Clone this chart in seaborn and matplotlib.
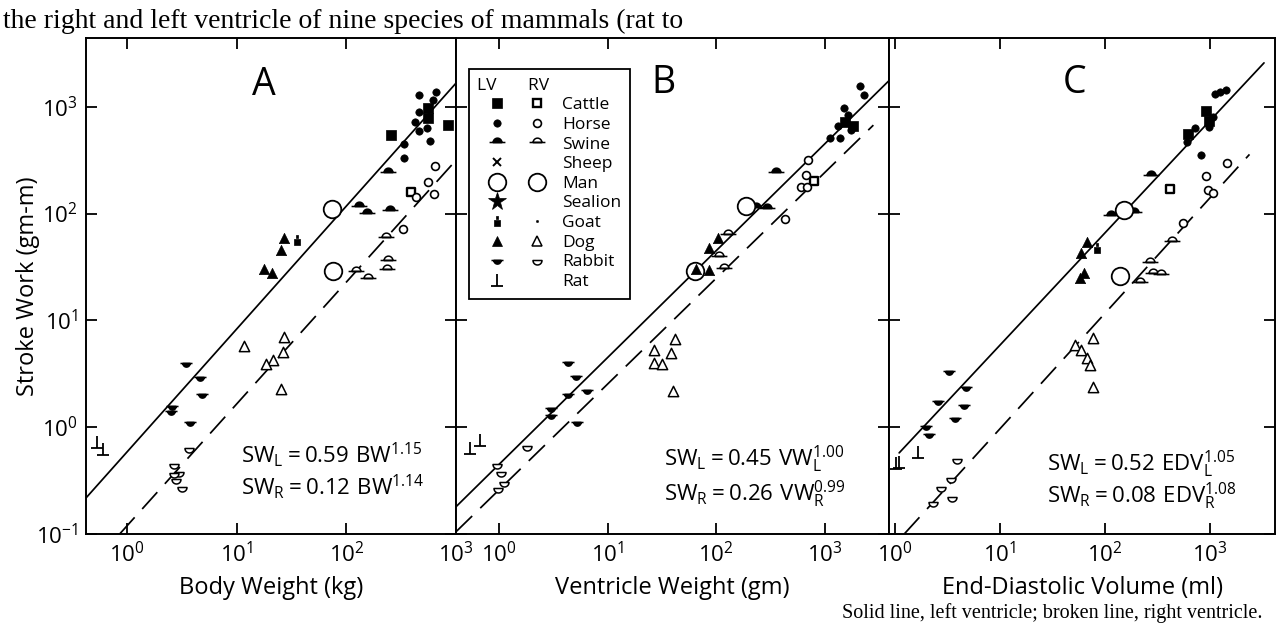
import numpy as np
import pandas as pd
import matplotlib
matplotlib.use("Agg")
import matplotlib.pyplot as plt
import seaborn as sns
from matplotlib.path import Path
from matplotlib.lines import Line2D
from matplotlib.legend_handler import HandlerTuple
from matplotlib.ticker import LogLocator, LogFormatterSciNotation, NullLocator

# ---------------- categories / labels ----------------
species = ["Cattle", "Horse", "Swine", "Sheep", "Man", "Sealion", "Goat", "Dog", "Rabbit", "Rat"]
panels = ["A", "B", "C"]
panel_xlabels = ["Body Weight (kg)", "Ventricle Weight (gm)", "End-Diastolic Volume (ml)"]
ylabel = "Stroke Work (gm-m)"

# ---------------- Panel A: body weight (kg) vs stroke work (gm-m) ----------------
A_cattle_LV = ([253, 556, 560, 848], [540, 966, 787, 673])
A_cattle_RV = ([388], [160])
A_horse_LV = ([462, 650, 623, 464, 423, 463, 545, 578, 333, 333],
              [1284, 1371, 1166, 899, 726, 598, 634, 473, 444, 328])
A_horse_RV = ([638, 554, 430, 635, 326], [280, 199, 143, 151, 72])
A_swine_LV = ([241, 130, 154, 250], [247, 117, 102, 109])
A_swine_RV = ([230, 239, 237, 156, 122], [60, 37, 30, 25, 29])
A_man_LV = ([74], [111])
A_man_RV = ([75], [29])
A_goat_LV = ([35.4], [56])
A_dog_LV = ([26.8, 25.2, 17.7, 21], [58.5, 46, 30, 28])
A_dog_RV = ([11.6, 27.2, 26.4, 21.2, 18.3, 25.5], [5.8, 7.0, 5.1, 4.3, 3.9, 2.28])
A_rabbit_LV = ([3.43, 4.64, 2.57, 4.8, 3.74, 2.5], [3.98, 2.93, 1.57, 2.04, 1.12, 1.42])
A_rabbit_RV = ([3.65, 2.68, 2.99, 2.69, 3.17, 2.77], [0.64, 0.456, 0.378, 0.375, 0.278, 0.324])
A_rat_LV = ([0.53, 0.6], [0.72, 0.62])

# ---------------- Panel B: ventricle weight (gm) vs stroke work ----------------
B_cattle_LV = ([1541, 1806], [725, 656])
B_cattle_RV = ([787], [202])
B_horse_LV = ([2122, 2303, 1489, 1618, 1114, 1393, 1320, 1738],
              [1550, 1291, 980, 833, 506, 510, 656, 604])
B_horse_RV = ([707, 664, 599, 680, 432], [316, 232, 176, 177, 88])
B_swine_LV = ([295, 352, 231], [113, 245, 114])
B_swine_RV = ([128, 105, 119], [64, 40, 31])
B_man_LV = ([187], [118])
B_man_RV = ([63], [28.7])
B_dog_LV = ([103, 85.5, 86.5, 65], [59, 48, 29.5, 30.5])
B_dog_RV = ([26.9, 38.1, 42, 26.9, 31.6, 39.5], [5.3, 5.0, 6.7, 4.0, 3.9, 2.2])
B_rabbit_LV = ([4.3, 5.07, 4.33, 6.5, 3.0, 3.02, 5.2], [4.1, 3.0, 2.04, 2.22, 1.5, 1.31, 1.13])
B_rabbit_RV = ([1.81, 0.96, 1.045, 1.11, 0.97], [0.66, 0.45, 0.38, 0.31, 0.27])
B_rat_LV = ([0.54, 0.67], [0.64, 0.76])

# ---------------- Panel C: end-diastolic volume (ml) vs stroke work ----------------
C_cattle_LV = ([921, 629, 981], [908, 556, 728])
C_cattle_RV = ([417], [171])
C_horse_LV = ([1122, 1250, 1445, 721, 989, 603, 824, 1074],
              [1313, 1365, 1448, 638, 653, 464, 355, 796])
C_horse_RV = ([1455, 931, 973, 1074, 561], [299, 223, 167, 156, 81])
C_swine_LV = ([275, 116, 192], [232, 97.5, 103])
C_swine_RV = ([442, 272, 289, 346, 215], [55, 35, 28, 27, 22.7])
C_man_LV = ([152], [107])
C_man_RV = ([140], [25.8])
C_goat_LV = ([84], [48])
C_dog_LV = ([68, 59, 64, 58], [54, 42.7, 28, 24.7])
C_dog_RV = ([77, 52, 59, 68, 72, 78], [6.8, 5.9, 5.3, 4.4, 3.8, 2.36])
C_rabbit_LV = ([3.27, 4.72, 2.56, 4.55, 3.75, 1.99, 2.13], [3.33, 2.4, 1.75, 1.61, 1.23, 1.02, 0.865])
C_rabbit_RV = ([3.88, 3.42, 2.74, 3.49, 2.33], [0.50, 0.335, 0.274, 0.224, 0.20])
C_rat_LV = ([1.65, 1.02, 1.1], [0.59, 0.466, 0.47])

# ---------------- fitted power laws (SW = a * X^b) ----------------
fit_coef_LV = [0.59, 0.45, 0.52]
fit_exp_LV = [1.15, 1.00, 1.05]
fit_coef_RV = [0.12, 0.26, 0.08]
fit_exp_RV = [1.14, 0.99, 1.08]
fit_xrange_LV = [(0.42, 1000), (0.4, 3900), (1.1, 3300)]
fit_xrange_RV = [(0.85, 1000), (0.4, 2800), (1.23, 2400)]

eq_LV = [r"$\mathregular{SW_L = 0.59\ BW^{1.15}}$",
         r"$\mathregular{SW_L = 0.45\ VW_L^{1.00}}$",
         r"$\mathregular{SW_L = 0.52\ EDV_L^{1.05}}$"]
eq_RV = [r"$\mathregular{SW_R = 0.12\ BW^{1.14}}$",
         r"$\mathregular{SW_R = 0.26\ VW_R^{0.99}}$",
         r"$\mathregular{SW_R = 0.08\ EDV_R^{1.08}}$"]

panel_xlims = [(0.42, 1000), (0.4, 3900), (0.88, 4200)]
panel_ylim = (0.1, 4400)

caption_top = "the right and left ventricle of nine species of mammals (rat to"
caption_bottom = "Solid line, left ventricle; broken line, right ventricle."

# ---------------- tidy table ----------------
series = {
    ("A", "Cattle", "LV"): A_cattle_LV, ("A", "Cattle", "RV"): A_cattle_RV,
    ("A", "Horse", "LV"): A_horse_LV, ("A", "Horse", "RV"): A_horse_RV,
    ("A", "Swine", "LV"): A_swine_LV, ("A", "Swine", "RV"): A_swine_RV,
    ("A", "Man", "LV"): A_man_LV, ("A", "Man", "RV"): A_man_RV,
    ("A", "Goat", "LV"): A_goat_LV,
    ("A", "Dog", "LV"): A_dog_LV, ("A", "Dog", "RV"): A_dog_RV,
    ("A", "Rabbit", "LV"): A_rabbit_LV, ("A", "Rabbit", "RV"): A_rabbit_RV,
    ("A", "Rat", "LV"): A_rat_LV,
    ("B", "Cattle", "LV"): B_cattle_LV, ("B", "Cattle", "RV"): B_cattle_RV,
    ("B", "Horse", "LV"): B_horse_LV, ("B", "Horse", "RV"): B_horse_RV,
    ("B", "Swine", "LV"): B_swine_LV, ("B", "Swine", "RV"): B_swine_RV,
    ("B", "Man", "LV"): B_man_LV, ("B", "Man", "RV"): B_man_RV,
    ("B", "Dog", "LV"): B_dog_LV, ("B", "Dog", "RV"): B_dog_RV,
    ("B", "Rabbit", "LV"): B_rabbit_LV, ("B", "Rabbit", "RV"): B_rabbit_RV,
    ("B", "Rat", "LV"): B_rat_LV,
    ("C", "Cattle", "LV"): C_cattle_LV, ("C", "Cattle", "RV"): C_cattle_RV,
    ("C", "Horse", "LV"): C_horse_LV, ("C", "Horse", "RV"): C_horse_RV,
    ("C", "Swine", "LV"): C_swine_LV, ("C", "Swine", "RV"): C_swine_RV,
    ("C", "Man", "LV"): C_man_LV, ("C", "Man", "RV"): C_man_RV,
    ("C", "Goat", "LV"): C_goat_LV,
    ("C", "Dog", "LV"): C_dog_LV, ("C", "Dog", "RV"): C_dog_RV,
    ("C", "Rabbit", "LV"): C_rabbit_LV, ("C", "Rabbit", "RV"): C_rabbit_RV,
    ("C", "Rat", "LV"): C_rat_LV,
}
rows = []
for (p, sp, v), (xs, ys) in series.items():
    for x, y in zip(xs, ys):
        rows.append(dict(panel=p, species=sp, vent=v, x=x, y=y))
df = pd.DataFrame(rows)

# ---------------- custom markers ----------------
def _arc(a0, a1, r, n=25):
    t = np.linspace(a0, a1, n)
    return np.column_stack([r * np.cos(t), r * np.sin(t)])

def dome_path():
    arc = _arc(0, np.pi, 0.55)
    verts = np.vstack([arc, arc[:1], [[-1, 0], [1, 0]]])
    codes = [Path.MOVETO] + [Path.LINETO] * (len(arc) - 1) + [Path.CLOSEPOLY, Path.MOVETO, Path.LINETO]
    return Path(verts, codes)

def bowl_path():
    arc = _arc(np.pi, 2 * np.pi, 0.6)
    verts = np.vstack([arc, arc[:1], [[-1, 0], [1, 0]]])
    codes = [Path.MOVETO] + [Path.LINETO] * (len(arc) - 1) + [Path.CLOSEPOLY, Path.MOVETO, Path.LINETO]
    return Path(verts, codes)

def cup_path():
    arc = _arc(np.pi, 2 * np.pi, 1.0)
    verts = np.vstack([arc, arc[:1]])
    codes = [Path.MOVETO] + [Path.LINETO] * (len(arc) - 1) + [Path.CLOSEPOLY]
    return Path(verts, codes)

def rat_path():
    verts = [[-1, -1], [1, -1], [0, -1], [0, 1]]
    codes = [Path.MOVETO, Path.LINETO, Path.MOVETO, Path.LINETO]
    return Path(verts, codes)

def goat_path():
    verts = [[-0.7, -1], [0.7, -1], [0.7, 0.25], [-0.7, 0.25], [-0.7, -1],
             [-0.3, 0.45], [0.3, 0.45], [0.3, 1.0], [-0.3, 1.0], [-0.3, 0.45]]
    codes = [Path.MOVETO, Path.LINETO, Path.LINETO, Path.LINETO, Path.CLOSEPOLY] * 2
    return Path(verts, codes)

DOME, BOWL, CUP, RAT, GOAT = dome_path(), bowl_path(), cup_path(), rat_path(), goat_path()

styles = {
    ("Cattle", "LV"): dict(marker="s", s=55, fc="black", ec="black", lw=0.5),
    ("Cattle", "RV"): dict(marker="s", s=32, fc="white", ec="black", lw=1.7),
    ("Horse", "LV"): dict(marker="o", s=28, fc="black", ec="black", lw=0.5),
    ("Horse", "RV"): dict(marker="o", s=32, fc="white", ec="black", lw=1.2),
    ("Swine", "LV"): dict(marker=DOME, s=130, fc="black", ec="black", lw=1.1),
    ("Swine", "RV"): dict(marker=DOME, s=130, fc="white", ec="black", lw=1.1),
    ("Sheep", "LV"): dict(marker="x", s=30, fc="black", ec="black", lw=1.4),
    ("Man", "LV"): dict(marker="o", s=160, fc="white", ec="black", lw=1.3),
    ("Man", "RV"): dict(marker="o", s=160, fc="white", ec="black", lw=1.3),
    ("Sealion", "LV"): dict(marker="*", s=180, fc="black", ec="black", lw=0.5),
    ("Goat", "LV"): dict(marker=GOAT, s=45, fc="black", ec="black", lw=0.5),
    ("Goat", "RV"): dict(marker="o", s=3, fc="black", ec="black", lw=0.3),
    ("Dog", "LV"): dict(marker="^", s=55, fc="black", ec="black", lw=0.5),
    ("Dog", "RV"): dict(marker="^", s=55, fc="white", ec="black", lw=1.1),
    ("Rabbit", "LV"): dict(marker=BOWL, s=75, fc="black", ec="black", lw=1.1),
    ("Rabbit", "RV"): dict(marker=CUP, s=42, fc="white", ec="black", lw=1.1),
    ("Rat", "LV"): dict(marker=RAT, s=75, fc="black", ec="black", lw=1.3),
}

# ---------------- style ----------------
sns.set_style("ticks")
plt.rcParams.update({
    "font.family": ["Open Sans", "DejaVu Sans"],
    "axes.edgecolor": "black", "axes.linewidth": 1.4,
    "xtick.color": "black", "ytick.color": "black",
    "text.color": "black", "axes.labelcolor": "black",
})

W, H = 1283, 625
fig = plt.figure(figsize=(W / 100, H / 100), dpi=100)
bottom_px, top_px = 534, 38
lefts = [86, 456, 889]
rights = [456, 889, 1275]
letter_pos = [(0.48, 0.905), (0.48, 0.91), (0.48, 0.91)]
eq_pos = [(0.42, 0.16, 0.095), (0.48, 0.15, 0.08), (0.41, 0.14, 0.075)]

axes = []
for i, p in enumerate(panels):
    ax = fig.add_axes([lefts[i] / W, (H - bottom_px) / H,
                       (rights[i] - lefts[i]) / W, (bottom_px - top_px) / H])
    ax.set_xscale("log")
    ax.set_yscale("log")
    ax.set_xlim(*panel_xlims[i])
    ax.set_ylim(*panel_ylim)

    # regression lines (solid: left ventricle, broken: right ventricle)
    for coef, ex, rng, ls in [(fit_coef_LV[i], fit_exp_LV[i], fit_xrange_LV[i], "-"),
                              (fit_coef_RV[i], fit_exp_RV[i], fit_xrange_RV[i], (0, (13, 6.5)))]:
        xs = np.array(rng, dtype=float)
        ys = coef * xs ** ex
        sns.lineplot(x=xs, y=ys, ax=ax, color="black", linewidth=1.25,
                     linestyle=ls, errorbar=None, zorder=2)

    # points
    sub = df[df.panel == p]
    for (sp, v), g in sub.groupby(["species", "vent"], sort=False):
        st = styles[(sp, v)]
        sns.scatterplot(data=g, x="x", y="y", ax=ax, marker=st["marker"], s=st["s"],
                        facecolor=st["fc"], edgecolor=st["ec"], linewidth=st["lw"],
                        legend=False, zorder=3)

    ax.xaxis.set_major_locator(LogLocator(base=10, numticks=12))
    ax.yaxis.set_major_locator(LogLocator(base=10, numticks=12))
    ax.xaxis.set_minor_locator(NullLocator())
    ax.yaxis.set_minor_locator(NullLocator())
    ax.xaxis.set_major_formatter(LogFormatterSciNotation())
    ax.yaxis.set_major_formatter(LogFormatterSciNotation())
    ax.tick_params(which="major", direction="in", length=8, width=1.3,
                   top=True, right=True, labelsize=16, pad=6)
    if i > 0:
        ax.tick_params(labelleft=False)
        ax.set_ylabel("")
    else:
        ax.set_ylabel(ylabel, fontsize=17)
        ax.yaxis.set_label_coords(-0.125, 0.5)
    ax.set_xlabel(panel_xlabels[i], fontsize=17, labelpad=6)
    for sp_name in ["top", "bottom", "left", "right"]:
        ax.spines[sp_name].set_linewidth(1.4)
        ax.spines[sp_name].set_color("black")

    ax.text(*letter_pos[i], p, transform=ax.transAxes, fontsize=27,
            ha="center", va="center")
    ex_, y1, y2 = eq_pos[i]
    ax.text(ex_, y1, eq_LV[i], transform=ax.transAxes, fontsize=16, ha="left", va="center")
    ax.text(ex_, y2, eq_RV[i], transform=ax.transAxes, fontsize=16, ha="left", va="center")
    axes.append(ax)

# ---------------- legend (in panel B) ----------------
def handle(key):
    st = styles.get(key)
    if st is None:
        return Line2D([], [], linestyle="none", marker="None")
    return Line2D([], [], linestyle="none", marker=st["marker"], markersize=np.sqrt(st["s"]),
                  markerfacecolor=st["fc"], markeredgecolor=st["ec"], markeredgewidth=st["lw"])

handles = [(handle((sp, "LV")), handle((sp, "RV"))) for sp in species]
leg = axes[1].legend(handles, species,
                     handler_map={tuple: HandlerTuple(ndivide=2, pad=0.0)},
                     loc="upper left", bbox_to_anchor=(0.009, 0.955),
                     title="LV       RV", alignment="left",
                     fontsize=12.5, title_fontsize=12.5, numpoints=1,
                     handlelength=4.6, handletextpad=0.3, labelspacing=0.2,
                     borderpad=0.5, fancybox=False, framealpha=1,
                     edgecolor="black")
leg.get_frame().set_linewidth(1.3)
leg.set_zorder(5)

# ---------------- page captions (partially visible in scan) ----------------
fig.text(0.002, (H - 28) / H, caption_top,
         fontsize=20, family="Liberation Serif", ha="left", va="baseline")
fig.text(842 / W, (H - 618) / H, caption_bottom,
         fontsize=14.5, family="Liberation Serif", ha="left", va="baseline")

fig.savefig("out.png", dpi=100)
